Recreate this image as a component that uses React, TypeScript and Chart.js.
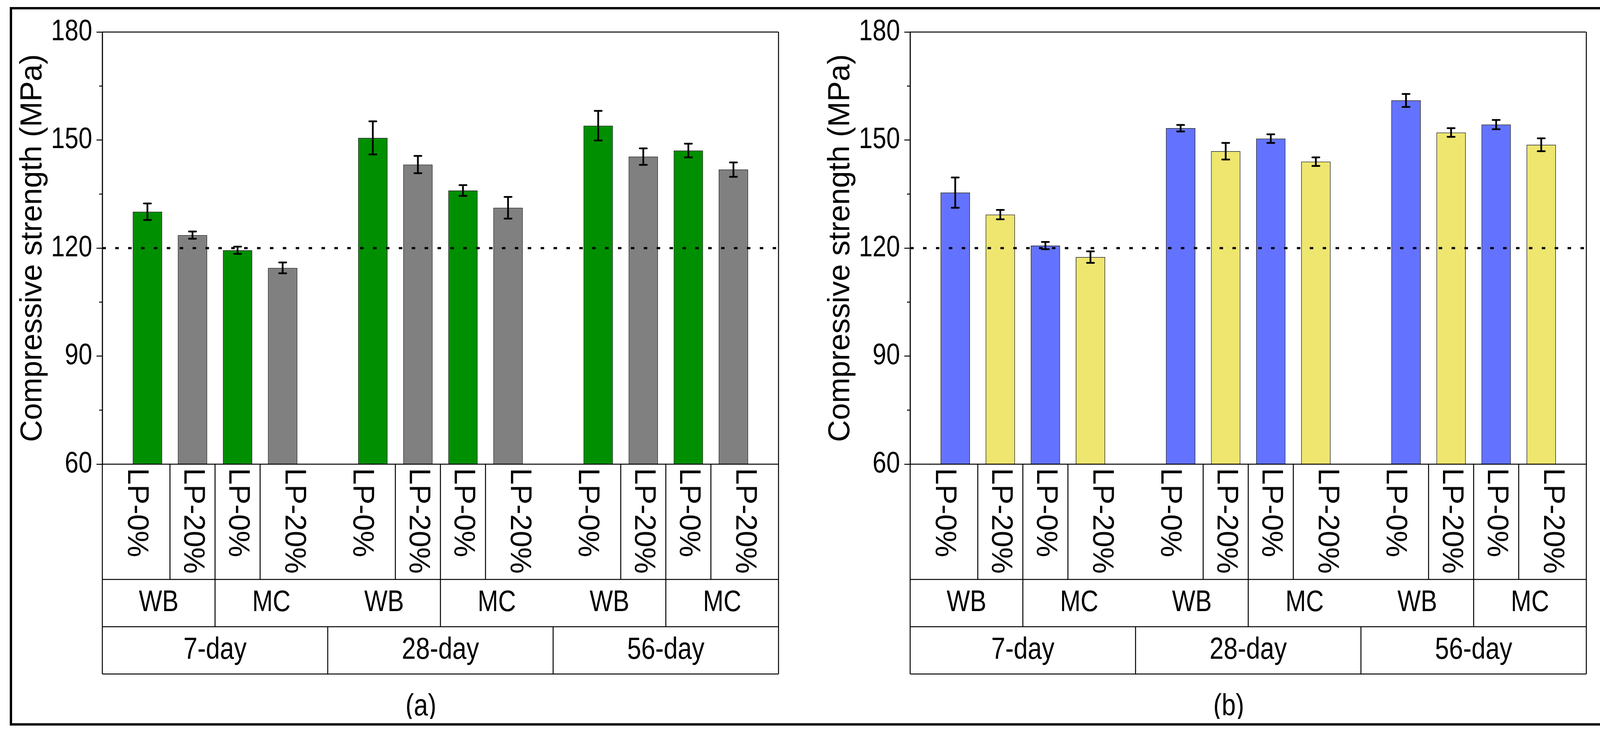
import React, { useEffect, useRef } from 'react';
import { Chart, registerables } from 'chart.js';

Chart.register(...registerables);

// categories
const ages = ['7-day', '28-day', '56-day'];
const methods = ['WB', 'MC'];
const lpLevels = ['LP-0%', 'LP-20%'];

// (a) compressive strength, MPa (order: age -> method -> LP level)
const strengthA = [130.1, 123.6, 119.4, 114.5, 150.6, 143.2, 136.0, 131.2, 154.0, 145.4, 147.1, 141.8];
const errorA = [2.3, 1.0, 1.0, 1.5, 4.6, 2.4, 1.5, 3.0, 4.1, 2.3, 1.9, 2.0];

// (b)
const strengthB = [135.4, 129.3, 120.7, 117.5, 153.3, 146.9, 150.4, 144.0, 161.0, 152.1, 154.3, 148.7];
const errorB = [4.2, 1.3, 1.0, 1.6, 0.9, 2.3, 1.2, 1.2, 1.8, 1.2, 1.3, 1.8];

// y axis
const yMin = 60;
const yMax = 180;
const yStep = 30;
const referenceLevel = 120;

const REGULAR = "'Liberation Sans', Arial, sans-serif";
const NARROW_SCALE = 0.83; // no narrow face installed, squeeze the regular one

const ROW_HEIGHTS = [295, 121, 121];
const Y_AXIS_WIDTH = 222;
const TICK_LEN = 15;

const perGroup = methods.length * lpLevels.length;
const slotCount = ages.length * (perGroup + 1);

// slot position of each bar, one empty slot between the age groups
const barSlots: number[] = [];
ages.forEach((_, g) => {
  for (let k = 0; k < perGroup; k++) barSlots.push(g * (perGroup + 1) + 1 + k);
});

const narrowText = (
  ctx: CanvasRenderingContext2D,
  text: string,
  x: number,
  y: number,
  align: CanvasTextAlign,
  size = 76
) => {
  ctx.save();
  ctx.font = `${size}px ${REGULAR}`;
  ctx.textAlign = align;
  ctx.textBaseline = 'middle';
  ctx.translate(x, y);
  ctx.scale(NARROW_SCALE, 1);
  ctx.fillText(text, 0, 0);
  ctx.restore();
};

const makePlugins = (errors: number[], panelLabel: string) => {
  const errorBars = {
    id: 'errorBars',
    afterDatasetsDraw(chart: any) {
      const { ctx, chartArea } = chart;
      const y = chart.scales.y;

      // dotted reference line
      ctx.save();
      ctx.strokeStyle = '#000';
      ctx.lineWidth = 5.5;
      ctx.setLineDash([9, 24]);
      const ry = y.getPixelForValue(referenceLevel);
      ctx.beginPath();
      ctx.moveTo(chartArea.left, ry);
      ctx.lineTo(chartArea.right, ry);
      ctx.stroke();
      ctx.restore();

      const meta = chart.getDatasetMeta(0);
      const values = chart.data.datasets[0].data;
      ctx.save();
      ctx.strokeStyle = '#000';
      ctx.lineWidth = 4.5;
      ctx.lineCap = 'round';
      meta.data.forEach((bar: any, i: number) => {
        const v = values[i].y;
        const top = y.getPixelForValue(v + errors[i]);
        const bot = y.getPixelForValue(v - errors[i]);
        ctx.beginPath();
        ctx.moveTo(bar.x, top);
        ctx.lineTo(bar.x, bot);
        ctx.moveTo(bar.x - 9, top);
        ctx.lineTo(bar.x + 9, top);
        ctx.moveTo(bar.x - 9, bot);
        ctx.lineTo(bar.x + 9, bot);
        ctx.stroke();
      });
      ctx.restore();
    },
  };

  const table = {
    id: 'tableAxis',
    afterDraw(chart: any) {
      const { ctx, chartArea } = chart;
      const x = chart.scales.x;
      const y = chart.scales.y;
      const px = (v: number) => x.getPixelForValue(v);
      const y0 = chartArea.bottom;
      const y1 = y0 + ROW_HEIGHTS[0];
      const y2 = y1 + ROW_HEIGHTS[1];
      const y3 = y2 + ROW_HEIGHTS[2];

      ctx.save();
      ctx.strokeStyle = '#000';
      ctx.fillStyle = '#000';
      ctx.lineWidth = 2.5;

      // tick labels and minor ticks
      const ticks = y.ticks;
      ticks.forEach((t: any) => {
        narrowText(ctx, String(t.value), chartArea.left - TICK_LEN - 11, y.getPixelForValue(t.value), 'right');
      });
      for (let i = 0; i < ticks.length - 1; i++) {
        const my = y.getPixelForValue((ticks[i].value + ticks[i + 1].value) / 2);
        ctx.beginPath();
        ctx.moveTo(chartArea.left - 8, my);
        ctx.lineTo(chartArea.left, my);
        ctx.stroke();
      }

      // frame + table outline
      ctx.beginPath();
      ctx.moveTo(chartArea.left, chartArea.top);
      ctx.lineTo(chartArea.right, chartArea.top);
      ctx.moveTo(chartArea.left, chartArea.top);
      ctx.lineTo(chartArea.left, y3);
      ctx.moveTo(chartArea.right, chartArea.top);
      ctx.lineTo(chartArea.right, y3);
      [y0, y1, y2, y3].forEach((ly) => {
        ctx.moveTo(chartArea.left, ly);
        ctx.lineTo(chartArea.right, ly);
      });
      ctx.stroke();

      const vline = (v: number, a: number, b: number) => {
        ctx.beginPath();
        ctx.moveTo(px(v), a);
        ctx.lineTo(px(v), b);
        ctx.stroke();
      };

      ages.forEach((age, g) => {
        const gStart = g * (perGroup + 1);
        const gEnd = gStart + perGroup + 1;
        const xs = barSlots.slice(g * perGroup, (g + 1) * perGroup);

        // row 1: LP levels, written top to bottom
        const lpEdges = [gStart];
        for (let k = 0; k < xs.length - 1; k++) lpEdges.push((xs[k] + xs[k + 1]) / 2);
        lpEdges.push(gEnd);
        ctx.font = `76px ${REGULAR}`;
        ctx.textAlign = 'left';
        ctx.textBaseline = 'middle';
        for (let k = 0; k < xs.length; k++) {
          if (k > 0) vline(lpEdges[k], y0, y1);
          const cx = (px(lpEdges[k]) + px(lpEdges[k + 1])) / 2;
          ctx.save();
          ctx.translate(cx, y0 + 10);
          ctx.rotate(Math.PI / 2);
          ctx.fillText(lpLevels[k % lpLevels.length], 0, 0);
          ctx.restore();
        }

        // row 2: methods
        const mEdges = [gStart];
        for (let m = 1; m < methods.length; m++) {
          const i = m * lpLevels.length;
          mEdges.push((xs[i - 1] + xs[i]) / 2);
        }
        mEdges.push(gEnd);
        methods.forEach((mName, m) => {
          if (m > 0) vline(mEdges[m], y1, y2);
          const cx = (px(mEdges[m]) + px(mEdges[m + 1])) / 2;
          narrowText(ctx, mName, cx, (y1 + y2) / 2, 'center');
        });

        // row 3: ages
        if (g > 0) vline(gStart, y2, y3);
        narrowText(ctx, age, (px(gStart) + px(gEnd)) / 2, (y2 + y3) / 2, 'center', 78);
      });

      narrowText(ctx, panelLabel, (chartArea.left + chartArea.right) / 2 - 50, y3 + 84, 'center', 78);
      ctx.restore();
    },
  };
  return [errorBars, table];
};

interface PanelProps {
  values: number[];
  errors: number[];
  colors: string[];
  panelLabel: string;
  left: number;
}

const Panel: React.FC<PanelProps> = ({ values, errors, colors, panelLabel, left }) => {
  const canvasRef = useRef<HTMLCanvasElement>(null);
  const chartRef = useRef<Chart | null>(null);

  useEffect(() => {
    if (!canvasRef.current) return;
    if (chartRef.current) chartRef.current.destroy();

    const points = values.map((v, i) => ({ x: barSlots[i], y: v }));

    chartRef.current = new Chart(canvasRef.current, {
      type: 'bar',
      data: {
        datasets: [
          {
            data: points as any,
            backgroundColor: values.map((_, i) => colors[i % lpLevels.length]),
            borderColor: '#000',
            borderWidth: 1.5,
            barPercentage: 0.65,
            categoryPercentage: 1,
          },
        ],
      },
      options: {
        animation: false,
        responsive: true,
        maintainAspectRatio: false,
        events: [],
        layout: { padding: { top: 52, left: 0, right: 37, bottom: 652 } },
        plugins: { legend: { display: false }, tooltip: { enabled: false } },
        scales: {
          x: {
            type: 'linear',
            display: false,
            min: 0,
            max: slotCount,
            offset: false,
            ticks: { stepSize: 1 },
            grid: { offset: false },
          },
          y: {
            type: 'linear',
            min: yMin,
            max: yMax,
            afterFit: (scale: any) => {
              scale.width = Y_AXIS_WIDTH;
            },
            // labels are drawn squeezed by the tableAxis plugin
            ticks: { stepSize: yStep, display: false },
            grid: {
              drawOnChartArea: false,
              drawTicks: true,
              tickLength: TICK_LEN,
              color: '#000',
              lineWidth: 2.5,
            },
            border: { display: true, color: '#000', width: 2.5 },
            title: {
              display: true,
              text: 'Compressive strength (MPa)',
              color: '#000',
              font: { family: REGULAR, size: 78, lineHeight: 1 },
              padding: { top: 5, bottom: 0 },
            },
          },
        },
      },
      plugins: makePlugins(errors, panelLabel),
    });

    return () => {
      if (chartRef.current) {
        chartRef.current.destroy();
        chartRef.current = null;
      }
    };
  }, [values, errors, colors, panelLabel]);

  return (
    <div style={{ position: 'absolute', left, top: 30, width: 1990, height: 1810 }}>
      <canvas ref={canvasRef}></canvas>
    </div>
  );
};

const App: React.FC = () => (
  <div style={{ position: 'fixed', left: 0, top: 0, width: '100vw', height: '100vh', background: '#fff' }}>
    <div
      style={{
        position: 'absolute',
        left: 25,
        top: 18,
        width: 4085,
        height: 1839,
        border: '6px solid #000',
        boxSizing: 'border-box',
      }}
    />
    <Panel values={strengthA} errors={errorA} colors={['#008f00', '#808080']} panelLabel="(a)" left={40} />
    <Panel values={strengthB} errors={errorB} colors={['#6373ff', '#eee66f']} panelLabel="(b)" left={2108} />
  </div>
);

export default App;
